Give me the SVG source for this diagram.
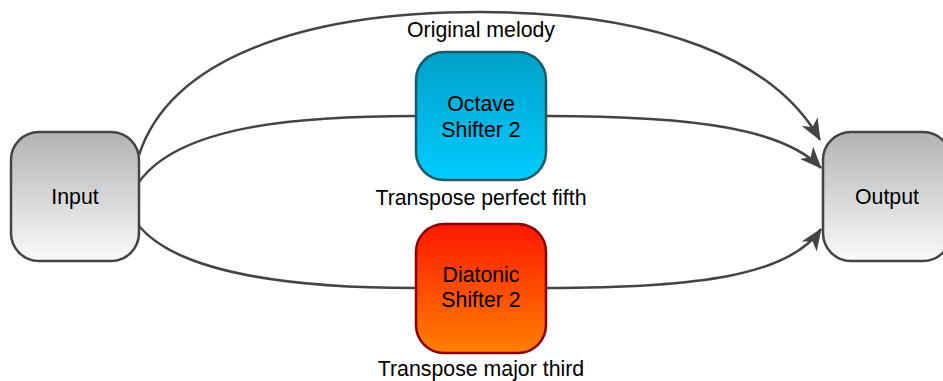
<svg xmlns="http://www.w3.org/2000/svg" width="943" height="381" viewBox="0 0 943 381">
  <style>
    .lbl { font-family: "Liberation Sans", Arial, sans-serif; font-size: 21.3px; fill: #000; text-anchor: middle; }
    .edge { fill: none; stroke: #444; stroke-width: 2.5; }
    .io { fill: url(#gGrey); stroke: #444; stroke-width: 2.5; }
  </style>
  <defs>
    <linearGradient id="gGrey" x1="0" y1="0" x2="0" y2="1">
      <stop offset="0" stop-color="#b3b3b3"/>
      <stop offset="1" stop-color="#fafafa"/>
    </linearGradient>
    <linearGradient id="gBlue" x1="0" y1="0" x2="0" y2="1">
      <stop offset="0" stop-color="#00a0c8"/>
      <stop offset="1" stop-color="#00ccff"/>
    </linearGradient>
    <linearGradient id="gRed" x1="0" y1="0" x2="0" y2="1">
      <stop offset="0" stop-color="#ff1800"/>
      <stop offset="1" stop-color="#ff8000"/>
    </linearGradient>
    <marker id="arrow" viewBox="0 0 22 18" refX="21" refY="9" markerWidth="22" markerHeight="18" markerUnits="userSpaceOnUse" orient="auto">
      <path d="M0,0 L22,9 L0,18 L6,9 Z" fill="#444"/>
    </marker>
  </defs>

  <g id="connectors">
    <path class="edge" d="M139,155 C170,60 300,12 480,12 C660,12 775,60 820,140" marker-end="url(#arrow)"/>
    <path class="edge" d="M139,182 C180,125 300,116 416,116"/>
    <path class="edge" d="M546,116 C700,116 785,130 821,168" marker-end="url(#arrow)"/>
    <path class="edge" d="M139,226 C180,275 300,288 416,288"/>
    <path class="edge" d="M546,288 C700,288 790,275 821,229" marker-end="url(#arrow)"/>
  </g>

  <g id="input">
    <rect class="io" x="11" y="132" width="128" height="129" rx="28"/>
    <text class="lbl" x="75" y="204">Input</text>
  </g>

  <g id="output">
    <rect class="io" x="823" y="132" width="128" height="129" rx="28"/>
    <text class="lbl" x="887" y="204">Output</text>
  </g>

  <g id="octave">
    <rect x="416" y="52" width="130" height="128" rx="28" fill="url(#gBlue)" stroke="#1a5a66" stroke-width="2.5"/>
    <text class="lbl" x="481" y="111">Octave</text>
    <text class="lbl" x="481" y="137">Shifter 2</text>
  </g>

  <g id="diatonic">
    <rect x="416" y="224" width="130" height="129" rx="28" fill="url(#gRed)" stroke="#8b0000" stroke-width="2.5"/>
    <text class="lbl" x="481" y="282">Diatonic</text>
    <text class="lbl" x="481" y="307">Shifter 2</text>
  </g>

  <g id="labels">
    <text class="lbl" x="481" y="37">Original melody</text>
    <text class="lbl" x="481" y="205">Transpose perfect fifth</text>
    <text class="lbl" x="481" y="376">Transpose major third</text>
  </g>
</svg>
